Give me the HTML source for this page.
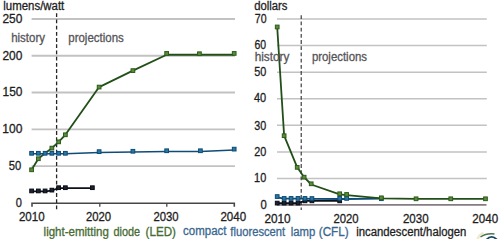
<!DOCTYPE html>
<html><head><meta charset="utf-8"><style>
html,body{margin:0;padding:0;background:#fff;width:504px;height:239px;overflow:hidden}
svg{display:block;font-family:"Liberation Sans",sans-serif}
</style></head><body>
<svg width="504" height="239" viewBox="0 0 504 239">
<line x1="31.6" y1="166.04" x2="235" y2="166.04" stroke="#c2c2c2" stroke-width="1.8"/>
<line x1="31.6" y1="129.28" x2="235" y2="129.28" stroke="#c2c2c2" stroke-width="1.8"/>
<line x1="31.6" y1="92.52" x2="235" y2="92.52" stroke="#c2c2c2" stroke-width="1.8"/>
<line x1="31.6" y1="55.76" x2="235" y2="55.76" stroke="#c2c2c2" stroke-width="1.8"/>
<line x1="31.6" y1="19.00" x2="235" y2="19.00" stroke="#c2c2c2" stroke-width="1.8"/>
<line x1="277" y1="178.51" x2="486.8" y2="178.51" stroke="#c2c2c2" stroke-width="1.5"/>
<line x1="277" y1="151.93" x2="486.8" y2="151.93" stroke="#c2c2c2" stroke-width="1.5"/>
<line x1="277" y1="125.34" x2="486.8" y2="125.34" stroke="#c2c2c2" stroke-width="1.5"/>
<line x1="277" y1="98.76" x2="486.8" y2="98.76" stroke="#c2c2c2" stroke-width="1.5"/>
<line x1="277" y1="72.17" x2="486.8" y2="72.17" stroke="#c2c2c2" stroke-width="1.5"/>
<line x1="277" y1="45.58" x2="486.8" y2="45.58" stroke="#c2c2c2" stroke-width="1.5"/>
<line x1="277" y1="19.00" x2="486.8" y2="19.00" stroke="#c2c2c2" stroke-width="1.5"/>
<path d="M32,206.7 V203.2 H234.3 V206.7" fill="none" stroke="#474747" stroke-width="1.6"/>
<line x1="99.80" y1="203" x2="99.80" y2="206.7" stroke="#474747" stroke-width="1.3"/>
<line x1="166.80" y1="203" x2="166.80" y2="206.7" stroke="#474747" stroke-width="1.3"/>
<line x1="277" y1="204.9" x2="486.5" y2="204.9" stroke="#857b80" stroke-width="1.8"/>
<line x1="56.6" y1="13.3" x2="56.6" y2="209.3" stroke="#262626" stroke-width="1.3" stroke-dasharray="3.8 2.4"/>
<line x1="301.2" y1="15.3" x2="301.2" y2="210" stroke="#2e2e2e" stroke-width="1.1" stroke-dasharray="3.8 2.4"/>
<path d="M31.60,169.79 L38.35,158.76 L45.11,153.17 L51.86,148.10 L58.61,141.85 L65.37,134.79 L99.13,87.08 L132.90,70.61 L166.66,54.73 L199.41,54.73 L234.19,54.73" fill="none" stroke="#224f18" stroke-width="1.8" stroke-linejoin="round"/>
<path d="M31.60,191.33 L38.35,191.33 L45.11,191.33 L51.86,190.52 L58.61,188.10 L65.37,188.10 L92.38,188.10" fill="none" stroke="#0e1018" stroke-width="1.8" stroke-linejoin="round"/>
<rect x="29.75" y="189.08" width="3.7" height="3.7" fill="#1c2232" stroke="#0a0c14" stroke-width="1"/>
<rect x="36.50" y="189.08" width="3.7" height="3.7" fill="#1c2232" stroke="#0a0c14" stroke-width="1"/>
<rect x="43.26" y="189.08" width="3.7" height="3.7" fill="#1c2232" stroke="#0a0c14" stroke-width="1"/>
<rect x="50.01" y="188.27" width="3.7" height="3.7" fill="#1c2232" stroke="#0a0c14" stroke-width="1"/>
<rect x="56.76" y="185.85" width="3.7" height="3.7" fill="#1c2232" stroke="#0a0c14" stroke-width="1"/>
<rect x="63.52" y="185.85" width="3.7" height="3.7" fill="#1c2232" stroke="#0a0c14" stroke-width="1"/>
<rect x="90.53" y="185.85" width="3.7" height="3.7" fill="#1c2232" stroke="#0a0c14" stroke-width="1"/>
<path d="M31.60,153.69 L38.35,153.69 L45.11,153.69 L51.86,153.69 L58.61,153.69 L65.37,153.69 L99.13,152.44 L132.90,152.07 L166.66,151.56 L200.42,151.56 L234.19,149.94" fill="none" stroke="#0f4c78" stroke-width="1.5" stroke-linejoin="round"/>
<rect x="29.75" y="151.44" width="3.7" height="3.7" fill="#2578a6" stroke="#104a72" stroke-width="1"/>
<rect x="36.50" y="151.44" width="3.7" height="3.7" fill="#2578a6" stroke="#104a72" stroke-width="1"/>
<rect x="43.26" y="151.44" width="3.7" height="3.7" fill="#2578a6" stroke="#104a72" stroke-width="1"/>
<rect x="50.01" y="151.44" width="3.7" height="3.7" fill="#2578a6" stroke="#104a72" stroke-width="1"/>
<rect x="56.76" y="151.44" width="3.7" height="3.7" fill="#2578a6" stroke="#104a72" stroke-width="1"/>
<rect x="63.52" y="151.44" width="3.7" height="3.7" fill="#2578a6" stroke="#104a72" stroke-width="1"/>
<rect x="97.28" y="149.79" width="3.7" height="3.7" fill="#2578a6" stroke="#104a72" stroke-width="1"/>
<rect x="131.05" y="149.42" width="3.7" height="3.7" fill="#2578a6" stroke="#104a72" stroke-width="1"/>
<rect x="164.81" y="148.91" width="3.7" height="3.7" fill="#2578a6" stroke="#104a72" stroke-width="1"/>
<rect x="198.57" y="148.91" width="3.7" height="3.7" fill="#2578a6" stroke="#104a72" stroke-width="1"/>
<rect x="232.34" y="147.29" width="3.7" height="3.7" fill="#2578a6" stroke="#104a72" stroke-width="1"/>
<rect x="29.75" y="167.94" width="3.7" height="3.7" fill="#5b8c36" stroke="#2d5a1c" stroke-width="1"/>
<rect x="36.50" y="156.91" width="3.7" height="3.7" fill="#5b8c36" stroke="#2d5a1c" stroke-width="1"/>
<rect x="50.01" y="146.25" width="3.7" height="3.7" fill="#5b8c36" stroke="#2d5a1c" stroke-width="1"/>
<rect x="56.76" y="140.00" width="3.7" height="3.7" fill="#5b8c36" stroke="#2d5a1c" stroke-width="1"/>
<rect x="63.52" y="132.94" width="3.7" height="3.7" fill="#5b8c36" stroke="#2d5a1c" stroke-width="1"/>
<rect x="97.28" y="85.23" width="3.7" height="3.7" fill="#5b8c36" stroke="#2d5a1c" stroke-width="1"/>
<rect x="131.05" y="68.76" width="3.7" height="3.7" fill="#5b8c36" stroke="#2d5a1c" stroke-width="1"/>
<rect x="164.81" y="51.58" width="3.7" height="3.7" fill="#5b8c36" stroke="#2d5a1c" stroke-width="1"/>
<rect x="197.56" y="51.88" width="3.7" height="3.7" fill="#5b8c36" stroke="#2d5a1c" stroke-width="1"/>
<rect x="232.34" y="51.58" width="3.7" height="3.7" fill="#5b8c36" stroke="#2d5a1c" stroke-width="1"/>
<path d="M277.20,203.11 L284.14,203.11 L291.09,203.11 L298.03,203.11 L304.97,200.85 L311.91,200.85 L339.69,200.85" fill="none" stroke="#0e1018" stroke-width="1.8" stroke-linejoin="round"/>
<rect x="275.35" y="201.26" width="3.7" height="3.7" fill="#1c2232" stroke="#0a0c14" stroke-width="1"/>
<rect x="282.29" y="201.26" width="3.7" height="3.7" fill="#1c2232" stroke="#0a0c14" stroke-width="1"/>
<rect x="289.24" y="201.26" width="3.7" height="3.7" fill="#1c2232" stroke="#0a0c14" stroke-width="1"/>
<rect x="296.18" y="201.26" width="3.7" height="3.7" fill="#1c2232" stroke="#0a0c14" stroke-width="1"/>
<rect x="303.12" y="199.00" width="3.7" height="3.7" fill="#1c2232" stroke="#0a0c14" stroke-width="1"/>
<rect x="310.06" y="199.00" width="3.7" height="3.7" fill="#1c2232" stroke="#0a0c14" stroke-width="1"/>
<rect x="337.84" y="199.00" width="3.7" height="3.7" fill="#1c2232" stroke="#0a0c14" stroke-width="1"/>
<path d="M277.20,197.26 L284.14,198.72 L291.09,198.72 L298.03,198.72 L304.97,198.72 L311.91,198.85 L339.69,198.99 L346.63,198.99 L381.34,198.72" fill="none" stroke="#0f4c78" stroke-width="1.8" stroke-linejoin="round"/>
<rect x="275.35" y="194.71" width="3.7" height="3.7" fill="#2578a6" stroke="#104a72" stroke-width="1"/>
<rect x="282.29" y="196.57" width="3.7" height="3.7" fill="#2578a6" stroke="#104a72" stroke-width="1"/>
<rect x="289.24" y="196.57" width="3.7" height="3.7" fill="#2578a6" stroke="#104a72" stroke-width="1"/>
<rect x="296.18" y="196.57" width="3.7" height="3.7" fill="#2578a6" stroke="#104a72" stroke-width="1"/>
<rect x="303.12" y="196.57" width="3.7" height="3.7" fill="#2578a6" stroke="#104a72" stroke-width="1"/>
<rect x="310.06" y="196.70" width="3.7" height="3.7" fill="#2578a6" stroke="#104a72" stroke-width="1"/>
<rect x="337.84" y="196.54" width="3.7" height="3.7" fill="#2578a6" stroke="#104a72" stroke-width="1"/>
<rect x="344.78" y="196.54" width="3.7" height="3.7" fill="#2578a6" stroke="#104a72" stroke-width="1"/>
<rect x="379.49" y="196.87" width="3.7" height="3.7" fill="#2578a6" stroke="#104a72" stroke-width="1"/>
<path d="M277.20,26.97 L284.14,135.71 L297.20,167.35 L304.14,177.18 L311.22,184.50 L339.69,194.47 L346.63,195.16 L381.34,198.32 L416.06,198.80 L450.77,198.80 L485.49,198.80" fill="none" stroke="#224f18" stroke-width="1.8" stroke-linejoin="round"/>
<rect x="275.35" y="25.12" width="3.7" height="3.7" fill="#5b8c36" stroke="#2d5a1c" stroke-width="1"/>
<rect x="282.29" y="133.86" width="3.7" height="3.7" fill="#5b8c36" stroke="#2d5a1c" stroke-width="1"/>
<rect x="295.35" y="165.50" width="3.7" height="3.7" fill="#5b8c36" stroke="#2d5a1c" stroke-width="1"/>
<rect x="302.29" y="175.33" width="3.7" height="3.7" fill="#5b8c36" stroke="#2d5a1c" stroke-width="1"/>
<rect x="309.37" y="181.95" width="3.7" height="3.7" fill="#5b8c36" stroke="#2d5a1c" stroke-width="1"/>
<rect x="337.84" y="191.92" width="3.7" height="3.7" fill="#5b8c36" stroke="#2d5a1c" stroke-width="1"/>
<rect x="344.78" y="192.61" width="3.7" height="3.7" fill="#5b8c36" stroke="#2d5a1c" stroke-width="1"/>
<rect x="379.49" y="195.97" width="3.7" height="3.7" fill="#5b8c36" stroke="#2d5a1c" stroke-width="1"/>
<rect x="414.21" y="196.95" width="3.7" height="3.7" fill="#5b8c36" stroke="#2d5a1c" stroke-width="1"/>
<rect x="448.92" y="196.95" width="3.7" height="3.7" fill="#5b8c36" stroke="#2d5a1c" stroke-width="1"/>
<rect x="483.64" y="196.95" width="3.7" height="3.7" fill="#5b8c36" stroke="#2d5a1c" stroke-width="1"/>
<text x="3.28" y="10.23" font-size="12" fill="#1e1e1e" stroke="#1e1e1e" stroke-width="0.3" textLength="61.04" lengthAdjust="spacingAndGlyphs">lumens/watt</text>
<text x="254.23" y="9.83" font-size="12" fill="#1e1e1e" stroke="#1e1e1e" stroke-width="0.3" textLength="33.21" lengthAdjust="spacingAndGlyphs">dollars</text>
<text x="2.40" y="23.07" font-size="12" fill="#1e1e1e" stroke="#1e1e1e" stroke-width="0.3" textLength="19.93" lengthAdjust="spacingAndGlyphs">250</text>
<text x="2.40" y="60.02" font-size="12" fill="#1e1e1e" stroke="#1e1e1e" stroke-width="0.3" textLength="19.93" lengthAdjust="spacingAndGlyphs">200</text>
<text x="2.51" y="96.02" font-size="12" fill="#1e1e1e" stroke="#1e1e1e" stroke-width="0.3" textLength="19.92" lengthAdjust="spacingAndGlyphs">150</text>
<text x="2.30" y="133.03" font-size="12" fill="#1e1e1e" stroke="#1e1e1e" stroke-width="0.3" textLength="20.03" lengthAdjust="spacingAndGlyphs">100</text>
<text x="8.83" y="170.03" font-size="12" fill="#1e1e1e" stroke="#1e1e1e" stroke-width="0.3" textLength="12.50" lengthAdjust="spacingAndGlyphs">50</text>
<text x="15.84" y="206.62" font-size="12" fill="#1e1e1e" stroke="#1e1e1e" stroke-width="0.3" textLength="6.16" lengthAdjust="spacingAndGlyphs">0</text>
<text x="254.76" y="23.18" font-size="12" fill="#1e1e1e" stroke="#1e1e1e" stroke-width="0.3" textLength="11.76" lengthAdjust="spacingAndGlyphs">70</text>
<text x="254.56" y="49.22" font-size="12" fill="#1e1e1e" stroke="#1e1e1e" stroke-width="0.3" textLength="11.65" lengthAdjust="spacingAndGlyphs">60</text>
<text x="254.15" y="75.83" font-size="12" fill="#1e1e1e" stroke="#1e1e1e" stroke-width="0.3" textLength="12.08" lengthAdjust="spacingAndGlyphs">50</text>
<text x="253.97" y="102.02" font-size="12" fill="#1e1e1e" stroke="#1e1e1e" stroke-width="0.3" textLength="12.26" lengthAdjust="spacingAndGlyphs">40</text>
<text x="254.35" y="129.98" font-size="12" fill="#1e1e1e" stroke="#1e1e1e" stroke-width="0.3" textLength="11.97" lengthAdjust="spacingAndGlyphs">30</text>
<text x="254.15" y="155.83" font-size="12" fill="#1e1e1e" stroke="#1e1e1e" stroke-width="0.3" textLength="12.08" lengthAdjust="spacingAndGlyphs">20</text>
<text x="254.09" y="182.48" font-size="12" fill="#1e1e1e" stroke="#1e1e1e" stroke-width="0.3" textLength="12.13" lengthAdjust="spacingAndGlyphs">10</text>
<text x="260.43" y="208.58" font-size="12" fill="#1e1e1e" stroke="#1e1e1e" stroke-width="0.3" textLength="6.28" lengthAdjust="spacingAndGlyphs">0</text>
<text x="18.92" y="220.73" font-size="12" fill="#1e1e1e" stroke="#1e1e1e" stroke-width="0.3" textLength="25.72" lengthAdjust="spacingAndGlyphs">2010</text>
<text x="85.93" y="220.73" font-size="12" fill="#1e1e1e" stroke="#1e1e1e" stroke-width="0.3" textLength="25.20" lengthAdjust="spacingAndGlyphs">2020</text>
<text x="153.43" y="220.73" font-size="12" fill="#1e1e1e" stroke="#1e1e1e" stroke-width="0.3" textLength="25.20" lengthAdjust="spacingAndGlyphs">2030</text>
<text x="220.42" y="220.73" font-size="12" fill="#1e1e1e" stroke="#1e1e1e" stroke-width="0.3" textLength="25.72" lengthAdjust="spacingAndGlyphs">2040</text>
<text x="264.41" y="223.08" font-size="12" fill="#1e1e1e" stroke="#1e1e1e" stroke-width="0.3" textLength="26.24" lengthAdjust="spacingAndGlyphs">2010</text>
<text x="333.43" y="223.08" font-size="12" fill="#1e1e1e" stroke="#1e1e1e" stroke-width="0.3" textLength="25.20" lengthAdjust="spacingAndGlyphs">2020</text>
<text x="402.92" y="223.08" font-size="12" fill="#1e1e1e" stroke="#1e1e1e" stroke-width="0.3" textLength="25.72" lengthAdjust="spacingAndGlyphs">2030</text>
<text x="472.32" y="223.08" font-size="12" fill="#1e1e1e" stroke="#1e1e1e" stroke-width="0.3" textLength="25.82" lengthAdjust="spacingAndGlyphs">2040</text>
<text x="11.18" y="41.57" font-size="12" fill="#575559" stroke="#575559" stroke-width="0.3" textLength="33.81" lengthAdjust="spacingAndGlyphs">history</text>
<text x="68.28" y="41.82" font-size="12" fill="#575559" stroke="#575559" stroke-width="0.3" textLength="55.49" lengthAdjust="spacingAndGlyphs">projections</text>
<text x="254.66" y="60.97" font-size="12" fill="#575559" stroke="#575559" stroke-width="0.3" textLength="34.73" lengthAdjust="spacingAndGlyphs">history</text>
<text x="311.89" y="61.08" font-size="12" fill="#575559" stroke="#575559" stroke-width="0.3" textLength="55.18" lengthAdjust="spacingAndGlyphs">projections</text>
<text x="356.19" y="235.88" font-size="12" fill="#1e1e1e" stroke="#1e1e1e" stroke-width="0.3" textLength="110.23" lengthAdjust="spacingAndGlyphs">incandescent/halogen</text>
<text x="43.58" y="235.88" font-size="12" fill="#466b33" stroke="#466b33" stroke-width="0.3" textLength="65.27" lengthAdjust="spacingAndGlyphs">light-emitting</text>
<text x="113.55" y="235.88" font-size="12" fill="#466b33" stroke="#466b33" stroke-width="0.3" textLength="26.62" lengthAdjust="spacingAndGlyphs">diode</text>
<text x="145.57" y="235.88" font-size="12" fill="#466b33" stroke="#466b33" stroke-width="0.3" textLength="30.34" lengthAdjust="spacingAndGlyphs">(LED)</text>
<text x="183.12" y="235.38" font-size="12" fill="#3a6790" stroke="#3a6790" stroke-width="0.3" textLength="43.38" lengthAdjust="spacingAndGlyphs">compact</text>
<text x="230.37" y="235.88" font-size="12" fill="#3a6790" stroke="#3a6790" stroke-width="0.3" textLength="54.79" lengthAdjust="spacingAndGlyphs">fluorescent</text>
<text x="290.79" y="235.88" font-size="12" fill="#3a6790" stroke="#3a6790" stroke-width="0.3" textLength="24.49" lengthAdjust="spacingAndGlyphs">lamp</text>
<text x="318.77" y="235.88" font-size="12" fill="#3a6790" stroke="#3a6790" stroke-width="0.3" textLength="29.89" lengthAdjust="spacingAndGlyphs">(CFL)</text>
<path d="M477.5,239.5 Q478.8,234.5 483.5,232.8" fill="none" stroke="#efeacb" stroke-width="2.4"/>
<path d="M480.5,237 Q486,233 494.5,233.9" fill="none" stroke="#4a7350" stroke-width="1.5"/>
<path d="M486.5,239.6 Q491.5,234.3 497,239.6" fill="none" stroke="#184866" stroke-width="1.8"/>
</svg>
</body></html>
